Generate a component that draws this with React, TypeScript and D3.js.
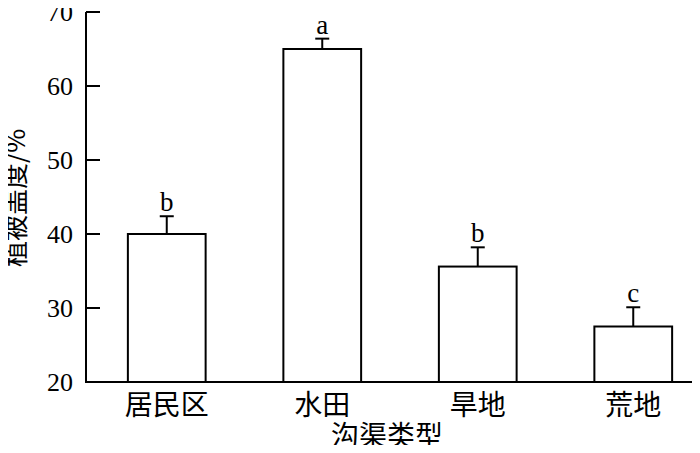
import React, { useEffect, useRef } from 'react';
import * as d3 from 'd3';

const categories = ['居民区', '水田', '旱地', '荒地'];
const means = [40, 65, 35.6, 27.5];
const errors = [2.4, 1.4, 2.6, 2.6];
const letters = ['b', 'a', 'b', 'c'];
const yTicks = [20, 30, 40, 50, 60, 70];

const cjk = '"Noto Sans CJK SC", sans-serif';
const serif = '"Liberation Serif", "DejaVu Serif", serif';

const App = () => {
  const ref = useRef<SVGSVGElement>(null);

  useEffect(() => {
    const svg = d3.select(ref.current);
    svg.selectAll('*').remove();

    const x0 = 86;
    const yScale = d3.scaleLinear().domain([20, 70]).range([382, 12]);
    const xScale = d3
      .scaleBand()
      .domain(categories)
      .range([89, 711])
      .paddingInner(0.5)
      .paddingOuter(0.25);

    const g = svg.append('g');

    // bars
    g.selectAll('.bar')
      .data(categories)
      .enter()
      .append('rect')
      .attr('class', 'bar')
      .attr('x', (d) => xScale(d)!)
      .attr('y', (d, i) => yScale(means[i]))
      .attr('width', xScale.bandwidth())
      .attr('height', (d, i) => yScale(20) - yScale(means[i]))
      .attr('fill', 'white')
      .attr('stroke', 'black')
      .attr('stroke-width', 2);

    // error bars + significance letters
    categories.forEach((c, i) => {
      const cx = xScale(c)! + xScale.bandwidth() / 2;
      const top = yScale(means[i] + errors[i]);
      g.append('line')
        .attr('x1', cx)
        .attr('x2', cx)
        .attr('y1', yScale(means[i]))
        .attr('y2', top)
        .attr('stroke', 'black')
        .attr('stroke-width', 2);
      g.append('line')
        .attr('x1', cx - 7)
        .attr('x2', cx + 7)
        .attr('y1', top)
        .attr('y2', top)
        .attr('stroke', 'black')
        .attr('stroke-width', 2);
      g.append('text')
        .attr('x', cx)
        .attr('y', top - 5)
        .attr('text-anchor', 'middle')
        .attr('font-family', serif)
        .attr('font-size', 27)
        .text(letters[i]);
    });

    // y axis
    g.append('line')
      .attr('x1', x0)
      .attr('x2', x0)
      .attr('y1', yScale(70))
      .attr('y2', yScale(20))
      .attr('stroke', 'black')
      .attr('stroke-width', 2);
    g.selectAll('.ytick')
      .data(yTicks)
      .enter()
      .append('line')
      .attr('x1', x0)
      .attr('x2', x0 + 14)
      .attr('y1', (d) => yScale(d))
      .attr('y2', (d) => yScale(d))
      .attr('stroke', 'black')
      .attr('stroke-width', 2);
    g.selectAll('.ylabel')
      .data(yTicks)
      .enter()
      .append('text')
      .attr('x', x0 - 13)
      .attr('y', (d) => yScale(d))
      .attr('dy', '0.34em')
      .attr('text-anchor', 'end')
      .attr('font-family', serif)
      .attr('font-size', 26)
      .text((d) => d);

    // x axis
    g.append('line')
      .attr('x1', x0 - 1)
      .attr('x2', 699)
      .attr('y1', yScale(20))
      .attr('y2', yScale(20))
      .attr('stroke', 'black')
      .attr('stroke-width', 2);
    g.selectAll('.xlabel')
      .data(categories)
      .enter()
      .append('text')
      .attr('x', (d) => xScale(d)! + xScale.bandwidth() / 2)
      .attr('y', 415)
      .attr('text-anchor', 'middle')
      .attr('font-family', cjk)
      .attr('font-size', 28)
      .text((d) => d);

    g.append('text')
      .attr('x', 387)
      .attr('y', 446)
      .attr('text-anchor', 'middle')
      .attr('font-family', cjk)
      .attr('font-size', 28)
      .text('沟渠类型');

    g.append('text')
      .attr('transform', 'translate(25,198) rotate(-90)')
      .attr('text-anchor', 'middle')
      .attr('font-family', cjk)
      .attr('font-size', 26)
      .text('植被盖度/%');
  }, []);

  return (
    <div style={{ margin: -8 }}>
      <svg ref={ref} width={700} height={453} style={{ display: 'block', background: 'white' }} />
    </div>
  );
};

export default App;
